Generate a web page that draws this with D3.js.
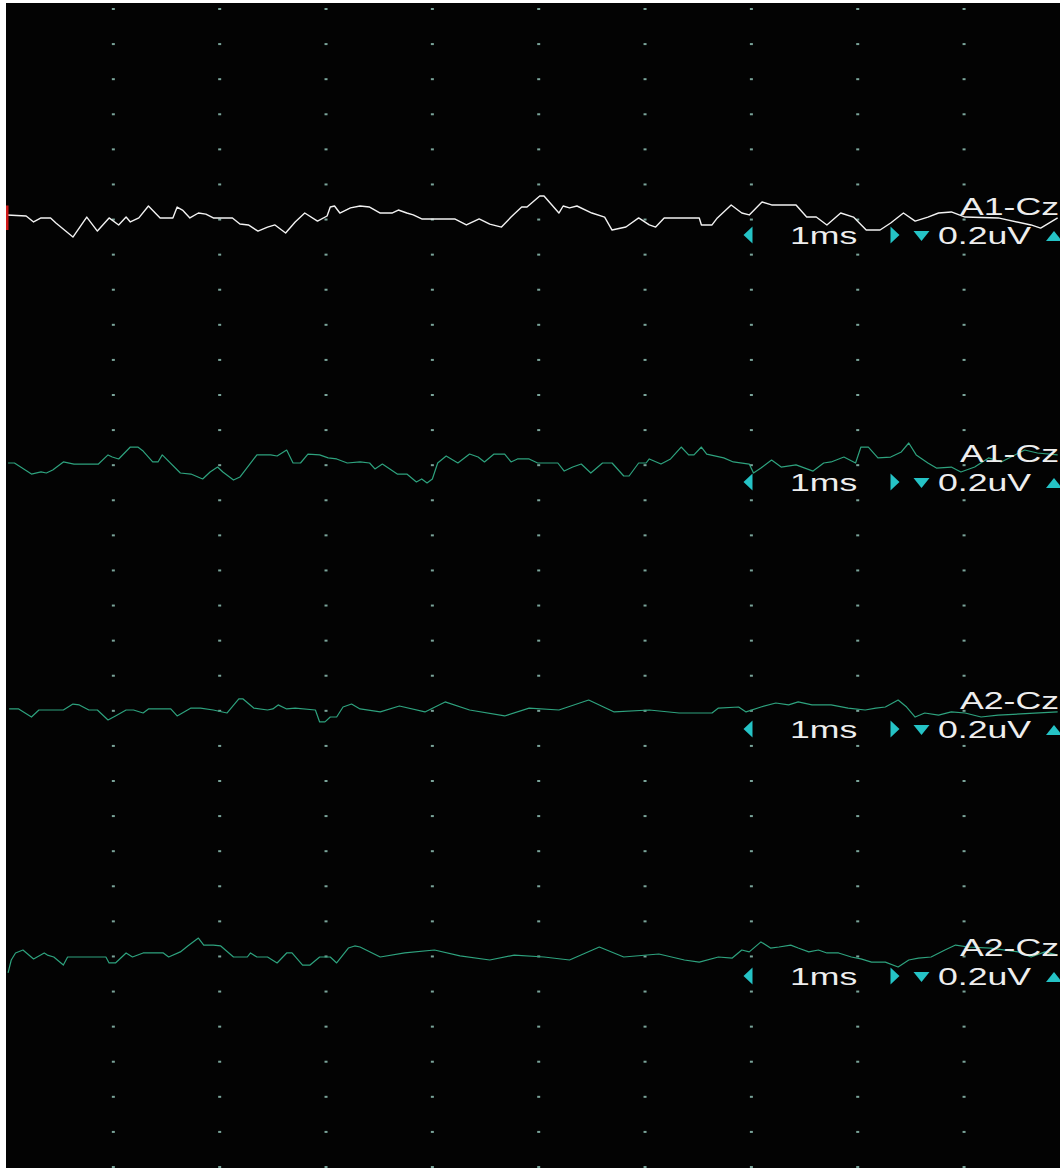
<!DOCTYPE html>
<html>
<head>
<meta charset="utf-8">
<script src="https://cdn.jsdelivr.net/npm/d3@7/dist/d3.min.js"></script>
<style>
  body { margin: 0; background: #ffffff; overflow: hidden; }
  svg { display: block; }
</style>
</head>
<body>
<div id="chart"></div>
<script>
// EEG / ABR style 4-channel display

// channel labels
var channelNames = ['A1-Cz', 'A1-Cz', 'A2-Cz', 'A2-Cz'];
var timeBaseLabel = '1ms';
var sensitivityLabel = '0.2uV';
var gridTimes = [1, 2, 3, 4, 5, 6, 7, 8, 9];   // ms, one dotted column per division

// channel 1 (ms, uV)
var ch1Time = [0.00,0.18,0.25,0.32,0.41,0.46,0.62,0.75,0.85,0.96,1.05,1.12,1.16,1.24,1.33,1.44,1.56,1.60,1.65,1.72,
  1.80,1.87,1.94,2.12,2.19,2.27,2.36,2.45,2.52,2.62,2.71,2.80,2.92,3.01,3.04,3.08,3.13,3.23,3.32,3.41,
  3.51,3.62,3.68,3.76,3.82,3.90,4.21,4.32,4.44,4.54,4.65,4.74,4.84,4.89,5.01,5.05,5.19,5.23,5.29,5.36,
  5.50,5.62,5.69,5.82,5.94,6.04,6.10,6.18,6.51,6.53,6.63,6.68,6.81,6.91,6.98,7.10,7.19,7.42,7.52,7.61,
  7.71,7.84,7.96,8.08,8.21,8.31,8.43,8.54,8.66,8.76,8.88,9.01,9.32,9.63,9.72,9.88];
var ch1Amp = [0.006,0,-0.034,-0.011,-0.011,-0.040,-0.120,-0.006,-0.086,-0.011,-0.051,-0.006,-0.034,-0.011,0.057,-0.011,-0.011,0.051,0.034,-0.011,
  0.017,0.011,-0.011,-0.011,-0.046,-0.051,-0.086,-0.063,-0.051,-0.097,-0.034,0.017,-0.029,0,0.051,0.057,0.017,0.046,0.057,0.051,
  0.017,0.017,0.034,0.017,0.006,-0.017,-0.017,-0.051,-0.017,-0.046,-0.063,-0.006,0.051,0.051,0.114,0.114,0.017,0.057,0.046,0.057,
  0.017,-0.006,-0.080,-0.063,-0.011,-0.051,-0.063,-0.011,-0.011,-0.051,-0.051,-0.011,0.063,0.017,0.006,0.080,0.063,0.063,-0.006,-0.006,
  -0.051,0.017,-0.006,-0.080,-0.080,-0.040,0.017,-0.029,-0.006,0.017,0.023,-0.006,-0.011,-0.051,-0.069,-0.011];

// channel 2
var ch2Time = [0.01,0.07,0.23,0.32,0.37,0.43,0.53,0.63,0.86,0.95,0.99,1.05,1.16,1.23,1.28,1.37,1.42,1.46,1.63,1.73,
  1.84,1.91,1.98,2.03,2.13,2.19,2.35,2.48,2.54,2.63,2.69,2.76,2.83,2.94,3.02,3.10,3.20,3.32,3.41,3.46,
  3.53,3.67,3.76,3.85,3.90,3.95,4.00,4.05,4.13,4.24,4.35,4.43,4.49,4.58,4.68,4.74,4.80,4.91,4.99,5.18,
  5.24,5.32,5.40,5.49,5.60,5.69,5.80,5.85,5.94,6.01,6.04,6.15,6.24,6.34,6.41,6.46,6.53,6.58,6.74,6.83,
  6.98,7.02,7.09,7.19,7.28,7.42,7.58,7.68,7.75,7.87,7.98,8.03,8.10,8.19,8.31,8.41,8.48,8.55,8.66,8.74,
  8.88,8.97,9.10,9.23,9.35,9.57,9.69,9.88];
var ch2Amp = [0,0,-0.063,-0.051,-0.057,-0.040,0.006,-0.006,-0.006,0.046,0.034,0.023,0.091,0.091,0.068,0.006,0.006,0.046,-0.057,-0.063,
  -0.091,-0.051,-0.023,-0.051,-0.097,-0.080,0.046,0.046,0.040,0.074,0,0,0.051,0.046,0.029,0.023,0,0.006,0,-0.034,
  -0.006,-0.063,-0.063,-0.108,-0.091,-0.114,-0.091,0,0.040,0,0.051,0.034,0.006,0.051,0.051,0.006,0.023,0.023,0,0,
  -0.046,-0.023,-0.006,-0.057,0,0,-0.074,-0.074,0,0,0.023,-0.006,0.023,0.091,0.046,0.046,0.091,0.051,0.029,0.006,
  -0.006,-0.057,-0.029,0.017,-0.023,-0.011,-0.046,0,0.006,0.034,0,0.091,0.091,0.029,0.034,0.063,0.114,0.046,0,-0.029,
  -0.023,-0.051,-0.023,0.029,0.006,0.074,0.057,0.046];

// channel 3
var ch3Time = [0.02,0.11,0.23,0.30,0.53,0.62,0.68,0.77,0.85,0.95,1.02,1.12,1.19,1.28,1.33,1.54,1.60,1.73,1.82,1.94,
  2.07,2.18,2.22,2.32,2.45,2.50,2.55,2.63,2.71,2.90,2.94,2.99,3.04,3.10,3.16,3.24,3.32,3.51,3.69,3.93,
  4.12,4.35,4.68,4.91,5.19,5.47,5.71,6.04,6.32,6.51,6.63,6.69,6.88,6.95,7.09,7.23,7.35,7.44,7.57,7.75,
  7.91,8.07,8.17,8.26,8.38,8.46,8.54,8.63,8.76,8.88,9.01,9.16,9.32,9.88];
var ch3Amp = [0.006,0.006,-0.040,0,0,0.034,0.029,0,0,-0.057,-0.034,0,0,-0.017,0.006,0.006,-0.034,0.011,0.011,0,
  -0.017,0.063,0.063,0.011,0,0.006,0.029,0.006,0.011,0,-0.068,-0.068,-0.040,-0.040,0.017,0.034,0.006,-0.011,0.023,-0.011,
  0.046,0,-0.034,0.011,0,0.057,-0.011,0,-0.017,-0.017,-0.017,0.011,0.017,-0.011,0.017,0.040,0.029,0.046,0.029,0.029,
  0.011,0,0.011,0.017,0.057,0.017,-0.040,-0.017,-0.029,-0.011,-0.017,-0.040,-0.029,-0.011];

// channel 4
var ch4Time = [0.01,0.04,0.08,0.15,0.25,0.35,0.38,0.44,0.53,0.57,0.93,0.96,1.02,1.12,1.18,1.28,1.47,1.52,1.63,1.70,
  1.80,1.85,1.94,2.01,2.13,2.26,2.29,2.35,2.45,2.54,2.63,2.68,2.78,2.85,2.94,3.04,3.10,3.21,3.27,3.32,
  3.51,3.74,4.02,4.26,4.54,4.77,5.05,5.29,5.57,5.80,6.13,6.37,6.51,6.69,6.82,6.91,6.98,7.09,7.18,7.26,
  7.37,7.44,7.54,7.63,7.71,7.82,7.94,8.03,8.13,8.26,8.38,8.48,8.57,8.69,8.82,8.92,9.04,9.25,9.51,9.63,
  9.76,9.88];
var ch4Amp = [-0.091,-0.017,0.023,0.040,-0.011,0.023,0.011,0,-0.046,0,0,-0.034,-0.034,0.023,0,0.023,0.023,0,0.029,0.063,
  0.108,0.068,0.068,0.063,0,0,0.023,0,0,-0.034,0.023,0.023,-0.046,-0.046,0,0,-0.034,0.051,0.063,0.057,
  0,0.023,0.040,0.006,-0.017,0.011,0,-0.017,0.057,0,0.017,-0.017,-0.029,0,-0.006,0.040,0.029,0.086,0.051,0.057,
  0.068,0.051,0.029,0.040,0.023,0.023,0,-0.011,-0.029,-0.029,-0.057,-0.017,-0.006,0,0.040,0.068,0.057,0.051,0.029,0,
  0.029,0.011];

var channelTimes = [ch1Time, ch2Time, ch3Time, ch4Time];
var channelAmps = [ch1Amp, ch2Amp, ch3Amp, ch4Amp];
var channelColors = ['#f2f2f2', '#2ea27e', '#2ea27e', '#2ea27e'];

var W = 1060, H = 1168;
var svg = d3.select('#chart').append('svg')
  .attr('width', W)
  .attr('height', H);

// black screen, white frame on the left and top
svg.append('rect')
  .attr('x', 6).attr('y', 3)
  .attr('width', W - 6).attr('height', H - 3)
  .attr('fill', '#030303');

var x = d3.scaleLinear().domain([0, 10]).range([7, 1070.4]);
var rowY = d3.scaleLinear().domain([0, 33]).range([9, 1167]);   // dotted rows
var chanY = d3.scaleLinear().domain([0, 3]).range([216, 957]);  // channel baselines
var divPx = rowY(1) - rowY(0);

// dotted grid
var rows = d3.range(34);
var grid = svg.append('g').attr('class', 'grid');
gridTimes.forEach(function(t) {
  grid.selectAll(null)
    .data(rows)
    .enter().append('rect')
    .attr('x', x(t) - 1.5)
    .attr('y', function(r) { return rowY(r) - 1; })
    .attr('width', 3)
    .attr('height', 2)
    .attr('fill', '#7aa49a');
});

// small cyan arrow button
function arrowPath(dir, w, h) {
  var p = d3.path();
  if (dir === 'left') {
    p.moveTo(-w / 2, 0); p.lineTo(w / 2, -h / 2); p.lineTo(w / 2, h / 2);
  } else if (dir === 'right') {
    p.moveTo(w / 2, 0); p.lineTo(-w / 2, -h / 2); p.lineTo(-w / 2, h / 2);
  } else if (dir === 'down') {
    p.moveTo(-w / 2, -h / 2); p.lineTo(w / 2, -h / 2); p.lineTo(0, h / 2);
  } else {
    p.moveTo(-w / 2, h / 2); p.lineTo(w / 2, h / 2); p.lineTo(0, -h / 2);
  }
  p.closePath();
  return p.toString();
}

var arrows = [
  { dir: 'left', cx: 748, dy: 19, w: 9, h: 17 },
  { dir: 'right', cx: 895, dy: 19, w: 9, h: 17 },
  { dir: 'down', cx: 921.5, dy: 20, w: 16, h: 10 },
  { dir: 'up', cx: 1054, dy: 20, w: 16, h: 10 }
];

// traces
channelNames.forEach(function(name, i) {
  var base = chanY(i);
  var y = d3.scaleLinear().domain([-0.2, 0.2]).range([base + divPx, base - divPx]);
  var pts = channelTimes[i].map(function(t, k) { return [t, channelAmps[i][k]]; });

  var line = d3.line()
    .x(function(d) { return x(d[0]); })
    .y(function(d) { return y(d[1]); });

  svg.append('path')
    .datum(pts)
    .attr('fill', 'none')
    .attr('stroke', channelColors[i])
    .attr('stroke-width', i === 0 ? 1.4 : 1.2)
    .attr('stroke-linejoin', 'round')
    .attr('d', line);

  if (i === 0) {
    // red marker on first channel
    svg.append('rect')
      .attr('x', 6).attr('y', y(0.06))
      .attr('width', 2.5).attr('height', y(-0.08) - y(0.06))
      .attr('fill', '#d01818');
  }

  var label = svg.append('g').attr('class', 'labels');

  label.append('text')
    .attr('transform', 'translate(960,' + (base - 1) + ') scale(1.55,1)')
    .text(name);

  label.append('text')
    .attr('transform', 'translate(790,' + (base + 28) + ') scale(1.55,1)')
    .text(timeBaseLabel);

  label.append('text')
    .attr('transform', 'translate(938,' + (base + 28) + ') scale(1.55,1)')
    .text(sensitivityLabel);

  label.selectAll('text')
    .attr('font-family', '"Liberation Sans", Arial, sans-serif')
    .attr('font-size', 23)
    .attr('fill', '#eeeeee');

  label.selectAll('path.arrow')
    .data(arrows)
    .enter().append('path')
    .attr('class', 'arrow')
    .attr('d', function(d) { return arrowPath(d.dir, d.w, d.h); })
    .attr('fill', '#25c3c6')
    .attr('transform', function(d) {
      return 'translate(' + d.cx + ',' + (base + d.dy) + ')';
    });
});
</script>
</body>
</html>
